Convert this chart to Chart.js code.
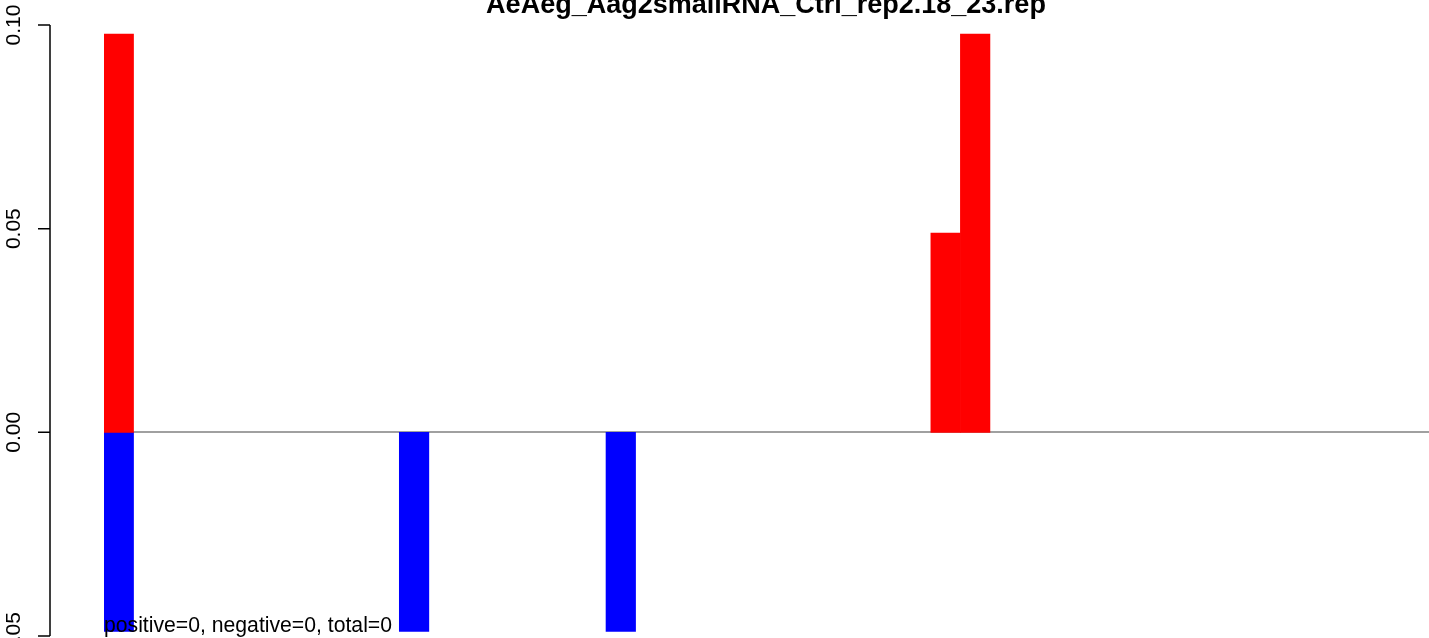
<!DOCTYPE html>
<html>
<head>
<meta charset="utf-8">
<script src="https://cdn.jsdelivr.net/npm/chart.js@4/dist/chart.umd.min.js"></script>
<style>
  html, body { margin: 0; padding: 0; background: #fff; overflow: hidden; }
  #wrap { width: 1429px; height: 638px; overflow: hidden; position: relative; }
  canvas { display: block; }
</style>
</head>
<body>
<div id="wrap"><canvas id="myChart" width="1433" height="638"></canvas></div>
<script>
const title = "AeAeg_Aag2smallRNA_Ctrl_rep2.18_23.rep";
const note = "positive=0, negative=0, total=0";

// read positions along the x axis (only the visible part of the plot)
const positions = [1, 2, 3, 4, 5, 6, 7, 8, 9, 10, 11, 12, 13, 14, 15,
  16, 17, 18, 19, 20, 21, 22, 23, 24, 25, 26, 27, 28, 29, 30,
  31, 32, 33, 34, 35, 36, 37, 38, 39, 40, 41, 42, 43, 44, 45];

const plus = [0.0978, 0, 0, 0, 0, 0, 0, 0, 0, 0, 0, 0, 0, 0, 0,
  0, 0, 0, 0, 0, 0, 0, 0, 0, 0, 0, 0, 0, 0.0489, 0.0978,
  0, 0, 0, 0, 0, 0, 0, 0, 0, 0, 0, 0, 0, 0, 0];

const minus = [-0.0489, 0, 0, 0, 0, 0, 0, 0, 0, 0, -0.0489, 0, 0, 0, 0,
  0, 0, -0.0489, 0, 0, 0, 0, 0, 0, 0, 0, 0, 0, 0, 0,
  0, 0, 0, 0, 0, 0, 0, 0, 0, 0, 0, 0, 0, 0, 0];

const yTicks = [-0.05, 0, 0.05, 0.1];

const font = '"Liberation Sans", Arial, Helvetica, sans-serif';

// zero bars would still show as a thin line because of bar inflation
const barColor = (col) => (c) => (c.raw === 0 ? "rgba(0,0,0,0)" : col);

// R style left axis, title and the note at the bottom
const rStuff = {
  id: "rStuff",
  afterDatasetsDraw(chart) {
    const ctx = chart.ctx;
    const y = chart.scales.y;
    const axisX = 50;
    ctx.save();
    ctx.strokeStyle = "#000";
    ctx.lineWidth = 1.5;
    ctx.beginPath();
    ctx.moveTo(axisX, y.getPixelForValue(yTicks[yTicks.length - 1]));
    ctx.lineTo(axisX, y.getPixelForValue(yTicks[0]));
    yTicks.forEach((v) => {
      const py = y.getPixelForValue(v);
      ctx.moveTo(axisX - 12, py);
      ctx.lineTo(axisX, py);
    });
    ctx.stroke();

    ctx.fillStyle = "#000";
    ctx.font = "21px " + font;
    ctx.textAlign = "center";
    ctx.textBaseline = "alphabetic";
    yTicks.forEach((v) => {
      const py = y.getPixelForValue(v);
      ctx.save();
      ctx.translate(20, py);
      ctx.rotate(-Math.PI / 2);
      ctx.fillText(v.toFixed(2), 0, 0);
      ctx.restore();
    });

    // note, drawn over the bars
    ctx.font = "21.2px " + font;
    ctx.textAlign = "left";
    ctx.fillText(note, chart.chartArea.left, 632);

    ctx.font = "bold 27px " + font;
    ctx.textAlign = "center";
    ctx.fillText(title, 766, 12.5);
    ctx.restore();
  },
};

const ctx = document.getElementById("myChart");
const myChart = new Chart(ctx, {
  type: "bar",
  data: {
    labels: positions,
    datasets: [
      {
        label: "plus",
        data: plus,
        backgroundColor: barColor("#ff0000"),
        borderWidth: 0,
        barPercentage: 1,
        categoryPercentage: 1,
      },
      {
        label: "minus",
        data: minus,
        backgroundColor: barColor("#0000ff"),
        borderWidth: 0,
        barPercentage: 1,
        categoryPercentage: 1,
      },
    ],
  },
  options: {
    responsive: false,
    animation: false,
    layout: { padding: { left: 104, top: 25, bottom: 2, right: 0.1 } },
    plugins: {
      legend: { display: false },
      tooltip: { enabled: false },
      title: { display: false },
    },
    scales: {
      x: { stacked: true, display: false },
      y: {
        stacked: true,
        min: -0.05,
        max: 0.1,
        ticks: { display: false, stepSize: 0.05 },
        border: { display: false },
        grid: {
          drawTicks: false,
          lineWidth: 2,
          color: (c) => (c.tick && Math.abs(c.tick.value) < 1e-9 ? "#a0a0a0" : "rgba(0,0,0,0)"),
        },
      },
    },
  },
  plugins: [rStuff],
});
</script>
</body>
</html>
